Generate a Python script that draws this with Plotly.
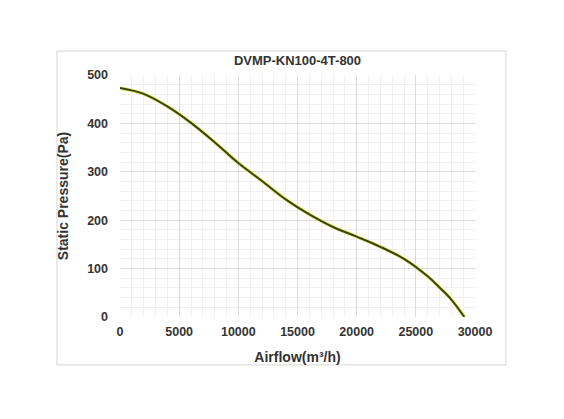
import plotly.graph_objects as go

# fan curve
airflow = [0, 2000, 4000, 6000, 8000, 10000, 12000, 14000, 16000,
           18000, 20000, 22000, 24000, 26000, 27000, 28000, 29100]
pressure = [473, 461, 435, 401, 361, 318, 281, 243, 212,
            186, 166, 145, 120, 84, 61, 36, 0]

x_ticks = [0, 5000, 10000, 15000, 20000, 25000, 30000]
y_ticks = [0, 100, 200, 300, 400, 500]

font_family = "Liberation Sans, Arial, sans-serif"
text_color = "#333333"

fig = go.Figure()

# faint yellow halo under the dark line
fig.add_trace(go.Scatter(
    x=airflow, y=pressure, mode="lines", line_shape="spline",
    line=dict(color="#e4ec6a", width=3.6), hoverinfo="skip", showlegend=False
))
fig.add_trace(go.Scatter(
    x=airflow, y=pressure, mode="lines", line_shape="spline",
    line=dict(color="#3a4412", width=2), showlegend=False
))

fig.update_layout(
    width=564,
    height=419,
    margin=dict(l=112, r=97, t=67, b=110),
    paper_bgcolor="white",
    plot_bgcolor="white",
    font=dict(family=font_family, color=text_color),
    title=dict(
        text="<b>DVMP-KN100-4T-800</b>",
        x=0.5, xref="paper", xanchor="center",
        y=1 - 52 / 419, yref="container", yanchor="middle",
        font=dict(size=13, color=text_color),
    ),
    shapes=[dict(
        type="rect", xref="paper", yref="paper",
        x0=-0.1775, x1=1.087, y0=-0.198, y1=1.099,
        line=dict(color="#d6d6d6", width=1), layer="below",
    )],
)

fig.update_xaxes(
    range=[0, 30000],
    tickvals=x_ticks,
    ticktext=[str(v) for v in x_ticks],
    showgrid=True, gridcolor="#dcdcdc", gridwidth=1,
    minor=dict(dtick=1000, showgrid=True, gridcolor="#f0f0f0", gridwidth=1),
    zeroline=False, showline=False, ticks="",
    ticklabelstandoff=5,
    tickfont=dict(size=12.5, family=font_family, weight="bold", color=text_color),
    title=dict(text="<b>Airflow(m³/h)</b>", font=dict(size=14), standoff=14),
)
fig.update_yaxes(
    range=[0, 500],
    tickvals=y_ticks,
    ticktext=[str(v) for v in y_ticks],
    showgrid=True, gridcolor="#dcdcdc", gridwidth=1,
    minor=dict(dtick=20, showgrid=True, gridcolor="#f0f0f0", gridwidth=1),
    zeroline=False, showline=False, ticks="",
    ticklabelstandoff=11,
    tickfont=dict(size=12.5, family=font_family, weight="bold", color=text_color),
    title=dict(text="<b>Static Pressure(Pa)</b>", font=dict(size=14), standoff=15),
)

fig.write_html("out.html")
